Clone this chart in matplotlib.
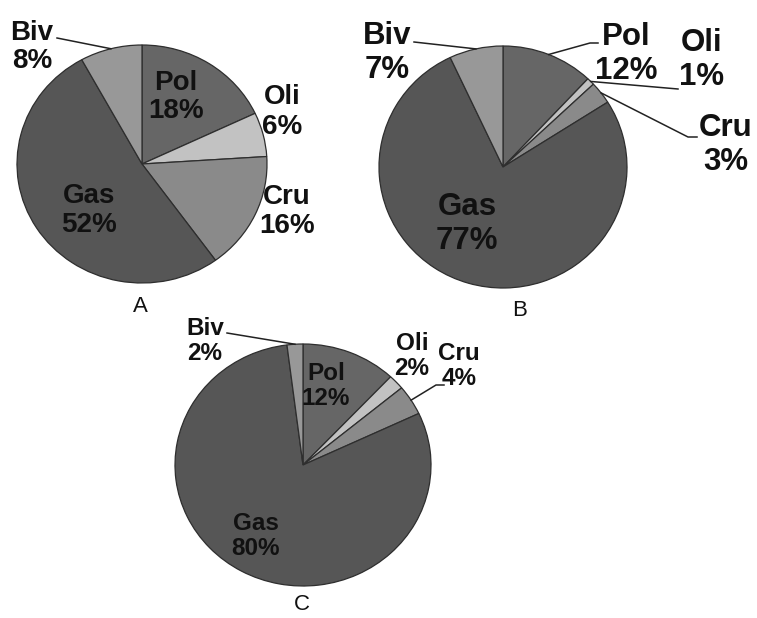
import numpy as np
import matplotlib.pyplot as plt
from matplotlib.lines import Line2D

# data
groups = ["Pol", "Oli", "Cru", "Gas", "Biv"]
share_a = [18, 6, 16, 52, 8]
share_b = [12, 1, 3, 77, 7]
share_c = [12, 2, 4, 80, 2]
panels = ["A", "B", "C"]

COLORS = ["#666666", "#c2c2c2", "#8a8a8a", "#565656", "#989898"]
EDGE = "#2e2e2e"
FONT = "Liberation Sans"

W, H = 757, 618

# layout in reference pixels: pie centre, radii, label centres, leader points
LAYOUT = {
    "A": dict(center=(142, 164), r=(125, 119), fs=20, letter=(140, 306),
              text={"Pol": (176, 97), "Oli": (282, 112), "Cru": (287, 212),
                    "Gas": (89, 210), "Biv": (32, 47)},
              leader={"Biv": [(57, 38)]}),
    "B": dict(center=(503, 167), r=(124, 121), fs=22.5, letter=(520, 311),
              text={"Pol": (626, 54), "Oli": (702, 60), "Cru": (726, 145),
                    "Gas": (467, 224), "Biv": (387, 53)},
              leader={"Biv": [(414, 42)], "Pol": [(598, 43), (590, 43)],
                      "Oli": [(678, 89)], "Cru": [(697, 137), (688, 137)]}),
    "C": dict(center=(303, 465), r=(128, 121), fs=17.5, letter=(302, 604),
              text={"Pol": (326, 386), "Oli": (412, 356), "Cru": (459, 366),
                    "Gas": (256, 536), "Biv": (205, 341)},
              leader={"Biv": [(227, 333)], "Cru": [(444, 385), (436, 385)]}),
}

fig = plt.figure(figsize=(W / 100, H / 100), dpi=100)
fig.patch.set_facecolor("white")


def fx(x, y):
    return x / W, 1 - y / H


for name, values in zip(panels, [share_a, share_b, share_c]):
    lay = LAYOUT[name]
    cx, cy = lay["center"]
    rx, ry = lay["r"]
    ax = fig.add_axes([(cx - rx) / W, 1 - (cy + ry) / H, 2 * rx / W, 2 * ry / H])
    ax.pie(values, colors=COLORS, startangle=90, counterclock=False, radius=1,
           wedgeprops=dict(edgecolor=EDGE, linewidth=0.9))
    ax.set_aspect("auto")
    ax.set_xlim(-1, 1)
    ax.set_ylim(-1, 1)
    ax.axis("off")

    # slice mid angles (clockwise from top) for the leader lines
    cum = np.cumsum([0] + values)
    for i, g in enumerate(groups):
        tx, ty = lay["text"][g]
        fig.text(*fx(tx, ty), f"{g}\n{values[i]}%", ha="center", va="center",
                 fontsize=lay["fs"], fontweight="bold", family=FONT,
                 linespacing=1.15, color="#111111")
        if g in lay["leader"]:
            mid = np.deg2rad((cum[i] + cum[i + 1]) / 2 * 3.6)
            ex = cx + rx * np.sin(mid)
            ey = cy - ry * np.cos(mid)
            pts = lay["leader"][g] + [(ex, ey)]
            xs = [p[0] / W for p in pts]
            ys = [1 - p[1] / H for p in pts]
            fig.add_artist(Line2D(xs, ys, color="#222222", linewidth=1.1))

    fig.text(*fx(*lay["letter"]), name, ha="center", va="center",
             fontsize=16, family=FONT, color="#111111")

fig.savefig("out.png", dpi=100, facecolor="white")
